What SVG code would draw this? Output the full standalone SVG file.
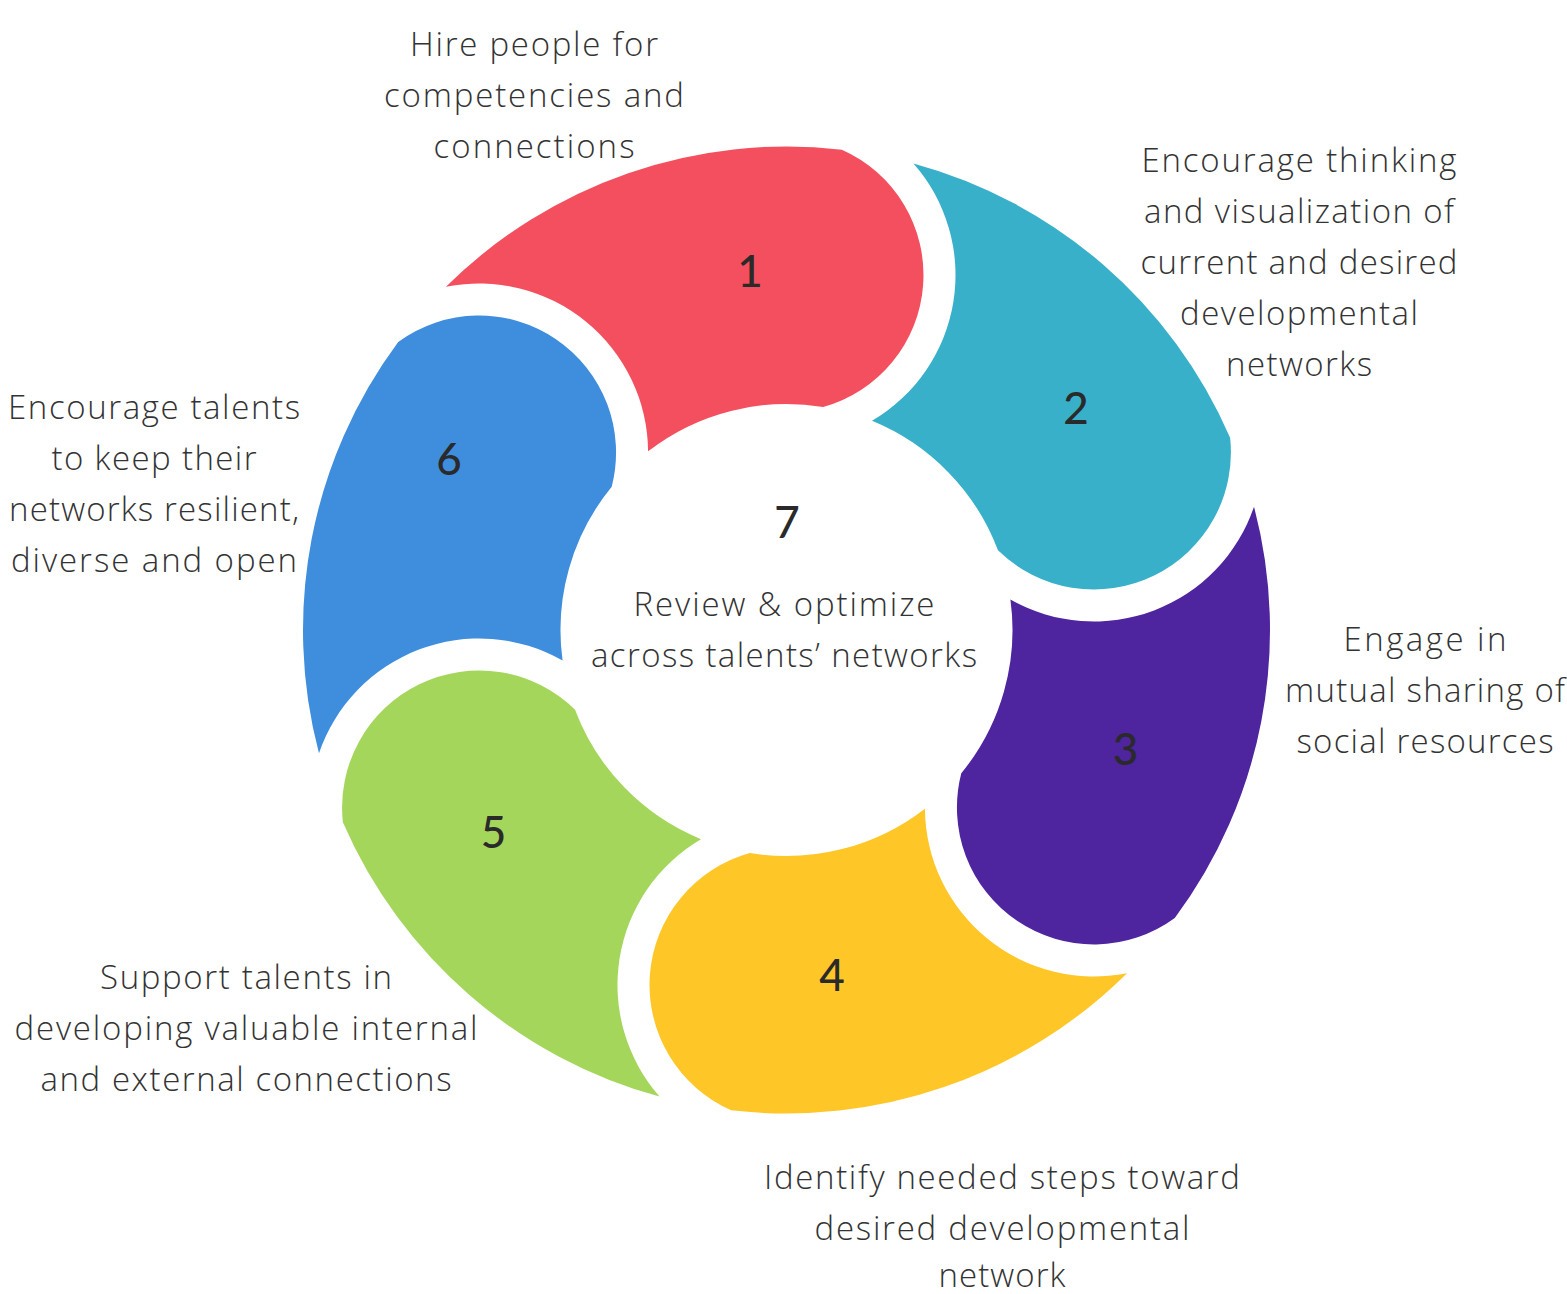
<svg xmlns="http://www.w3.org/2000/svg" xmlns:xlink="http://www.w3.org/1999/xlink" width="1567" height="1294" viewBox="0 0 1567 1294">
<style>
.lbl{font-family:"Open Sans",Lato,"DejaVu Sans",sans-serif;font-weight:300;font-size:33px;fill:#333333;text-anchor:middle}
.num{font-family:Lato,"Open Sans","DejaVu Sans",sans-serif;font-weight:500;font-size:44px;fill:#2a2a2a;text-anchor:middle}
</style>
<defs>
<path id="seg" d="M 445.93 286.80 A 483.5 483.5 0 0 1 841.82 149.68 A 137 137 0 0 1 823.18 407.00 A 226 226 0 0 0 648.08 451.35 A 169 169 0 0 0 445.93 286.80 Z"/>
</defs>
<rect width="1567" height="1294" fill="#ffffff"/>
<g id="connectors"></g>
<g id="node1">
<use xlink:href="#seg" href="#seg" fill="#F44F5E"/>
<text class="num" x="750" y="287">1</text>
<text class="lbl" x="534" y="56" textLength="248" lengthAdjust="spacing">Hire people for</text>
<text class="lbl" x="534" y="107" textLength="300" lengthAdjust="spacing">competencies and</text>
<text class="lbl" x="534" y="158" textLength="201" lengthAdjust="spacing">connections</text>
</g>
<g id="node2">
<use xlink:href="#seg" href="#seg" fill="#39B0C9" transform="rotate(60 786.5 630)"/>
<text class="num" x="1076" y="424">2</text>
<text class="lbl" x="1299" y="172" textLength="315" lengthAdjust="spacing">Encourage thinking</text>
<text class="lbl" x="1299" y="223" textLength="310" lengthAdjust="spacing">and visualization of</text>
<text class="lbl" x="1299" y="274" textLength="317" lengthAdjust="spacing">current and desired</text>
<text class="lbl" x="1299" y="325" textLength="238" lengthAdjust="spacing">developmental</text>
<text class="lbl" x="1299" y="376" textLength="146" lengthAdjust="spacing">networks</text>
</g>
<g id="node3">
<use xlink:href="#seg" href="#seg" fill="#4E249F" transform="rotate(120 786.5 630)"/>
<text class="num" x="1125.5" y="765">3</text>
<text class="lbl" x="1425" y="651" textLength="163" lengthAdjust="spacing">Engage in</text>
<text class="lbl" x="1425" y="702" textLength="280" lengthAdjust="spacing">mutual sharing of</text>
<text class="lbl" x="1425" y="753" textLength="257" lengthAdjust="spacing">social resources</text>
</g>
<g id="node4">
<use xlink:href="#seg" href="#seg" fill="#FFC628" transform="rotate(180 786.5 630)"/>
<text class="num" x="832" y="991">4</text>
<text class="lbl" x="1002" y="1189" textLength="476" lengthAdjust="spacing">Identify needed steps toward</text>
<text class="lbl" x="1002" y="1240" textLength="375" lengthAdjust="spacing">desired developmental</text>
<text class="lbl" x="1002" y="1287" textLength="127" lengthAdjust="spacing">network</text>
</g>
<g id="node5">
<use xlink:href="#seg" href="#seg" fill="#A5D65C" transform="rotate(240 786.5 630)"/>
<text class="num" x="493.5" y="848">5</text>
<text class="lbl" x="246" y="989" textLength="292" lengthAdjust="spacing">Support talents in</text>
<text class="lbl" x="246" y="1040" textLength="463" lengthAdjust="spacing">developing valuable internal</text>
<text class="lbl" x="246" y="1091" textLength="411" lengthAdjust="spacing">and external connections</text>
</g>
<g id="node6">
<use xlink:href="#seg" href="#seg" fill="#3E8EDD" transform="rotate(300 786.5 630)"/>
<text class="num" x="449" y="475">6</text>
<text class="lbl" x="154" y="419" textLength="292" lengthAdjust="spacing">Encourage talents</text>
<text class="lbl" x="154" y="470" textLength="205" lengthAdjust="spacing">to keep their</text>
<text class="lbl" x="154" y="521" textLength="290" lengthAdjust="spacing">networks resilient,</text>
<text class="lbl" x="154" y="572" textLength="286" lengthAdjust="spacing">diverse and open</text>
</g>
<g id="node7">
<text class="num" x="787" y="538">7</text>
<text class="lbl" x="784" y="616" textLength="301" lengthAdjust="spacing">Review &amp; optimize</text>
<text class="lbl" x="784" y="667" textLength="386" lengthAdjust="spacing">across talents’ networks</text>
</g>
</svg>
